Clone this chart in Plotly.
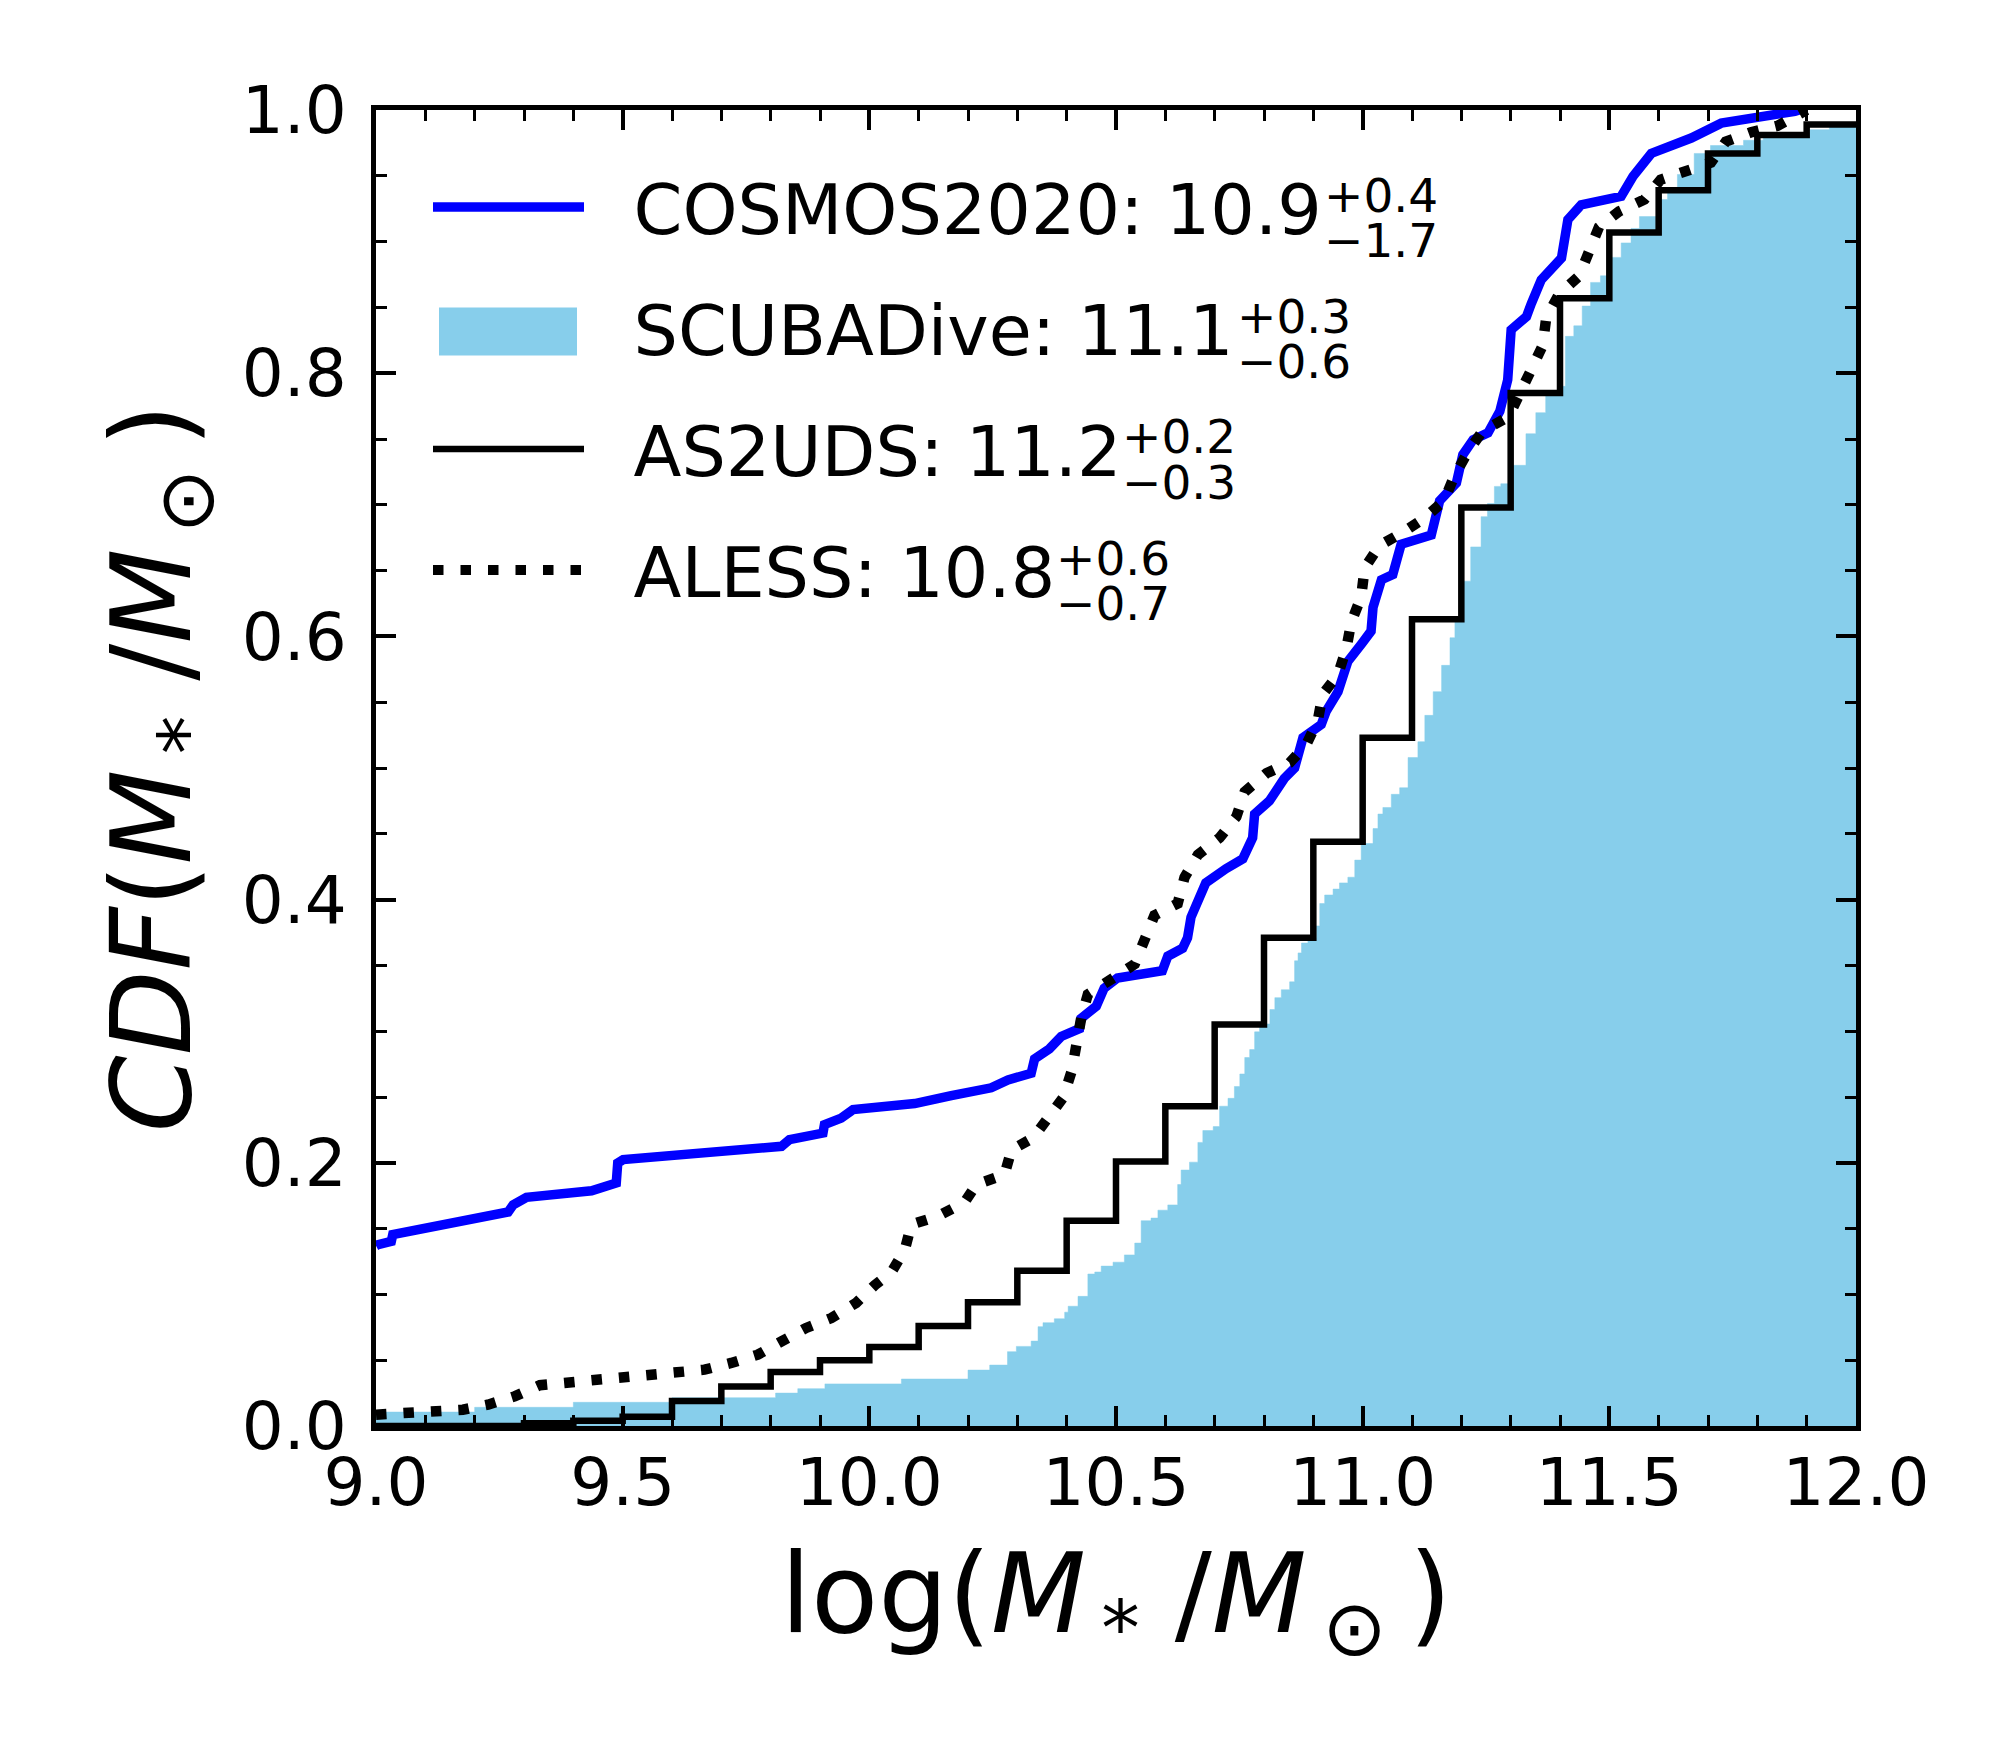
import plotly.graph_objects as go

# ---------------- data ----------------
cosmos_x = [9.0, 9.004, 9.031, 9.034, 9.268, 9.278, 9.305, 9.437, 9.487, 9.490, 9.501,
            9.822, 9.838, 9.906, 9.909, 9.943, 9.967, 10.092, 10.166, 10.247, 10.281,
            10.328, 10.335, 10.365, 10.389, 10.426, 10.429, 10.460, 10.476, 10.503,
            10.594, 10.605, 10.635, 10.645, 10.652, 10.682, 10.723, 10.757, 10.777,
            10.781, 10.811, 10.841, 10.862, 10.879, 10.916, 10.926, 10.950, 10.970,
            10.997, 11.017, 11.021, 11.031, 11.038, 11.061, 11.078, 11.139, 11.149,
            11.156, 11.190, 11.203, 11.224, 11.254, 11.278, 11.294, 11.301, 11.332,
            11.342, 11.362, 11.403, 11.416, 11.443, 11.524, 11.548, 11.585, 11.666,
            11.727, 11.876, 11.885]
cosmos_cdf = [0.137, 0.1378, 0.1403, 0.1454, 0.1626, 0.168, 0.1738, 0.1788, 0.1847, 0.1998,
              0.2024, 0.2125, 0.2176, 0.2226, 0.229, 0.234, 0.2404, 0.245, 0.251, 0.257,
              0.263, 0.268, 0.279, 0.2866, 0.296, 0.302, 0.3097, 0.319, 0.3327, 0.3404,
              0.346, 0.357, 0.363, 0.371, 0.3866, 0.4127, 0.4235, 0.431, 0.447, 0.465,
              0.475, 0.492, 0.500, 0.523, 0.533, 0.543, 0.558, 0.581, 0.594, 0.604,
              0.622, 0.636, 0.643, 0.647, 0.670, 0.677, 0.698, 0.703, 0.7166, 0.738,
              0.7495, 0.7546, 0.771, 0.795, 0.833, 0.843, 0.853, 0.871, 0.8875, 0.9167,
              0.928, 0.9344, 0.9496, 0.967, 0.9787, 0.990, 0.999, 1.0]

aless_x = [9.0, 9.119, 9.176, 9.227, 9.281, 9.332, 9.389, 9.558, 9.666, 9.720, 9.774,
           9.822, 9.872, 9.923, 9.973, 10.011, 10.045, 10.072, 10.085, 10.139, 10.193,
           10.217, 10.274, 10.288, 10.332, 10.362, 10.393, 10.410, 10.420, 10.430,
           10.443, 10.491, 10.538, 10.578, 10.625, 10.639, 10.666, 10.710, 10.744,
           10.761, 10.805, 10.852, 10.886, 10.909, 10.919, 10.950, 10.967, 10.977,
           10.997, 11.004, 11.034, 11.081, 11.122, 11.165, 11.186, 11.213, 11.243,
           11.296, 11.315, 11.345, 11.365, 11.372, 11.398, 11.439, 11.459, 11.479,
           11.520, 11.571, 11.604, 11.658, 11.706, 11.736, 11.787, 11.841, 11.881, 11.90]
aless_cdf = [0.0086, 0.0099, 0.0124, 0.0162, 0.0225, 0.031, 0.0327, 0.0385, 0.0428, 0.0479,
             0.0542, 0.0643, 0.0745, 0.082, 0.0935, 0.107, 0.117, 0.134, 0.153, 0.1595,
             0.170, 0.1835, 0.191, 0.2097, 0.219, 0.234, 0.2496, 0.2696, 0.291, 0.311,
             0.328, 0.339, 0.351, 0.388, 0.397, 0.417, 0.434, 0.447, 0.463, 0.482, 0.496,
             0.504, 0.518, 0.536, 0.556, 0.571, 0.591, 0.611, 0.630, 0.652, 0.669, 0.679,
             0.689, 0.703, 0.722, 0.740, 0.756, 0.767, 0.782, 0.802, 0.821, 0.842, 0.860,
             0.874, 0.893, 0.911, 0.923, 0.932, 0.947, 0.954, 0.960, 0.976, 0.983, 0.988,
             0.995, 1.0]

as2uds_x = [9.0, 9.3, 9.4, 9.5, 9.6, 9.7, 9.8, 9.9, 10.0, 10.1, 10.2, 10.3, 10.4, 10.5,
            10.6, 10.7, 10.8, 10.9, 11.0, 11.1, 11.2, 11.3, 11.4, 11.5, 11.6, 11.7, 11.8,
            11.9, 12.0]
as2uds_cdf = [0.0, 0.002, 0.004, 0.007, 0.019, 0.030, 0.041, 0.050, 0.060, 0.076, 0.094,
              0.118, 0.156, 0.201, 0.243, 0.305, 0.371, 0.444, 0.523, 0.613, 0.698, 0.785,
              0.857, 0.907, 0.939, 0.967, 0.981, 0.989, 0.990]

scuba_x = [9.0, 9.2, 9.4, 9.6, 9.81, 9.855, 9.91, 10.065, 10.2, 10.244, 10.28, 10.298,
           10.328, 10.342, 10.352, 10.375, 10.396, 10.403, 10.423, 10.443, 10.457, 10.470,
           10.494, 10.517, 10.538, 10.551, 10.571, 10.585, 10.605, 10.625, 10.632, 10.649,
           10.666, 10.676, 10.697, 10.710, 10.727, 10.740, 10.751, 10.761, 10.771, 10.781,
           10.791, 10.812, 10.822, 10.835, 10.852, 10.862, 10.869, 10.876, 10.889, 10.906,
           10.913, 10.923, 10.940, 10.953, 10.970, 10.984, 10.997, 11.021, 11.031, 11.041,
           11.058, 11.075, 11.092, 11.112, 11.126, 11.143, 11.160, 11.177, 11.187, 11.204,
           11.219, 11.240, 11.253, 11.267, 11.280, 11.304, 11.331, 11.351, 11.371, 11.398,
           11.411, 11.428, 11.445, 11.462, 11.482, 11.500, 11.524, 11.544, 11.561, 11.598,
           11.618, 11.638, 11.672, 11.705, 11.772, 11.812, 11.905, 11.946, 12.0]
scuba_cdf = [0.0106, 0.0142, 0.018, 0.0215, 0.025, 0.0284, 0.032, 0.0357, 0.0425, 0.0463,
             0.0565, 0.0605, 0.0645, 0.0755, 0.0785, 0.0815, 0.0865, 0.091, 0.0985, 0.1155,
             0.117, 0.1215, 0.1245, 0.130, 0.139, 0.156, 0.158, 0.164, 0.168, 0.1835,
             0.1945, 0.2005, 0.2155, 0.2245, 0.2275, 0.243, 0.249, 0.258, 0.2675, 0.280,
             0.286, 0.2995, 0.3055, 0.3165, 0.3255, 0.3315, 0.3375, 0.3535, 0.3595, 0.367,
             0.371, 0.380, 0.397, 0.4035, 0.408, 0.4127, 0.417, 0.430, 0.4426, 0.454,
             0.465, 0.470, 0.480, 0.485, 0.508, 0.520, 0.540, 0.558, 0.578, 0.599, 0.614,
             0.642, 0.668, 0.691, 0.701, 0.714, 0.716, 0.730, 0.754, 0.770, 0.785, 0.790,
             0.828, 0.836, 0.851, 0.869, 0.874, 0.888, 0.899, 0.910, 0.919, 0.932, 0.939,
             0.951, 0.967, 0.973, 0.977, 0.980, 0.985, 0.988, 0.990]

series_names = ["COSMOS2020: 10.9", "SCUBADive: 11.1", "AS2UDS: 11.2", "ALESS: 10.8"]
upper_err = ["+0.4", "+0.3", "+0.2", "+0.6"]
lower_err = ["\u22121.7", "\u22120.6", "\u22120.3", "\u22120.7"]

x_range = [9.0, 12.0]
y_range = [0.0, 1.0]

# ---------------- figure ----------------
W, H = 2000, 1750
ML, MR, MT, MB = 368, 152, 102, 332
PW, PH = W - ML - MR, H - MT - MB
FONT = "DejaVu Sans"
SKY = "#87CEEB"
LEG_PAD = "\u00a0\u00a0"   # space between legend key and label
ROW1 = 205.5                # legend first-row centre (px from top)
ROW_STEP = 121.0            # legend row spacing (px)

fig = go.Figure()

# SCUBADive filled CDF (its legend entry is a separate empty proxy trace)
fig.add_trace(go.Scatter(
    x=scuba_x, y=scuba_cdf, mode="lines", line_shape="hv",
    fill="tozeroy", fillcolor=SKY, line=dict(color=SKY, width=0.5),
    showlegend=False, hoverinfo="skip"))

fig.add_trace(go.Scatter(
    x=cosmos_x, y=cosmos_cdf, mode="lines",
    line=dict(color="#0000FF", width=9.5),
    name=LEG_PAD + series_names[0], legendgroup="g1", legendrank=1))

fig.add_trace(go.Scatter(
    x=[None], y=[None], mode="lines",
    line=dict(color="rgba(0,0,0,0)", width=1),
    name=LEG_PAD + series_names[1], legendgroup="g2", legendrank=2))

fig.add_trace(go.Scatter(
    x=as2uds_x, y=as2uds_cdf, mode="lines", line_shape="hv",
    line=dict(color="black", width=6.5),
    name=LEG_PAD + series_names[2], legendgroup="g3", legendrank=3))

fig.add_trace(go.Scatter(
    x=aless_x, y=aless_cdf, mode="lines",
    line=dict(color="black", width=10.5, dash="10.5px,17px"),
    name=LEG_PAD + series_names[3], legendgroup="g4", legendrank=4))


def px2paper_x(px):
    return (px - ML) / PW


def px2paper_y(py):
    return (H - MB - py) / PH


# stacked super/subscripts of the legend labels
sup_left = [1314, 1227, 1112, 1046]
annotations = []
for i in range(4):
    annotations.append(dict(
        text=upper_err[i], xref="paper", yref="paper",
        x=px2paper_x(sup_left[i]), y=px2paper_y(ROW1 - 18.5 + ROW_STEP * i),
        xanchor="left", yanchor="middle", showarrow=False,
        font=dict(family=FONT, size=47, color="black")))
    annotations.append(dict(
        text=lower_err[i], xref="paper", yref="paper",
        x=px2paper_x(sup_left[i]), y=px2paper_y(ROW1 + 26.5 + ROW_STEP * i),
        xanchor="left", yanchor="middle", showarrow=False,
        font=dict(family=FONT, size=47, color="black")))

# filled swatch used as the SCUBADive legend key
swatch_c = ROW1 + ROW_STEP - 3
shapes = [dict(type="rect", xref="paper", yref="paper", layer="above",
               x0=px2paper_x(431), x1=px2paper_x(569),
               y0=px2paper_y(swatch_c + 24), y1=px2paper_y(swatch_c - 24),
               fillcolor=SKY, line=dict(width=0))]

axis_common = dict(
    ticks="inside", ticklen=20, tickwidth=4, tickcolor="black",
    showline=True, linewidth=5, linecolor="black", mirror="allticks",
    showgrid=False, zeroline=False, tickformat=".1f",
    tickfont=dict(family=FONT, size=66, color="black"),
)

mass_label = "(<i>M</i><sub>\u2009*</sub> /<i>M</i><sub>\u2009\u2299</sub>\u2009)"

fig.update_layout(
    width=W, height=H, autosize=False,
    margin=dict(l=ML, r=MR, t=MT, b=MB, pad=0),
    paper_bgcolor="white", plot_bgcolor="white",
    font=dict(family=FONT, color="black"),
    showlegend=True,
    legend=dict(x=px2paper_x(420), y=px2paper_y(147), xanchor="left", yanchor="top",
                bgcolor="rgba(0,0,0,0)", borderwidth=0, itemwidth=151,
                tracegroupgap=27, traceorder="grouped",
                font=dict(family=FONT, size=70, color="black")),
    annotations=annotations,
    shapes=shapes,
    xaxis=dict(range=x_range, tick0=9, dtick=0.5,
               minor=dict(dtick=0.1, ticks="inside", ticklen=11, tickwidth=3,
                          tickcolor="black", showgrid=False),
               title=dict(text="log" + mass_label,
                          font=dict(family=FONT, size=110, color="black"), standoff=36),
               ticklabelstandoff=-5,
               **axis_common),
    yaxis=dict(range=y_range, tick0=0, dtick=0.2,
               minor=dict(dtick=0.05, ticks="inside", ticklen=11, tickwidth=3,
                          tickcolor="black", showgrid=False),
               title=dict(text="<i>CDF</i>" + mass_label,
                          font=dict(family=FONT, size=110, color="black"), standoff=16),
               ticklabelstandoff=11,
               **axis_common),
)

fig.write_html("out.html")
